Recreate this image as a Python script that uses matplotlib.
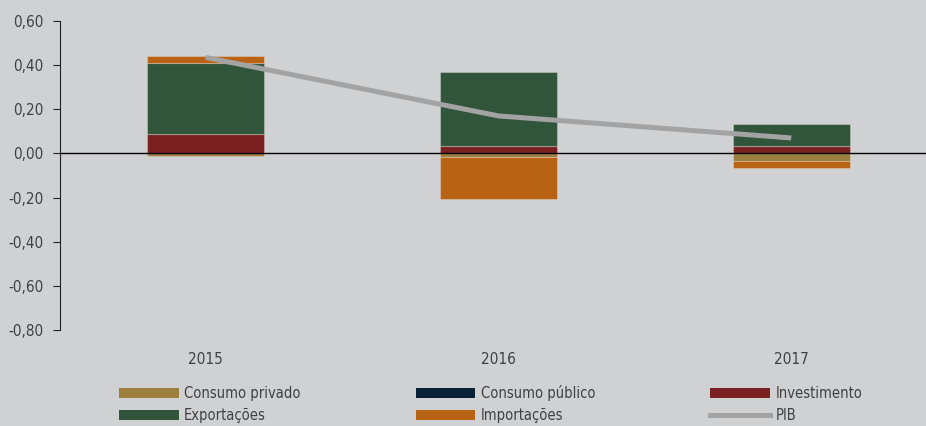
import numpy as np
import matplotlib.pyplot as plt
from matplotlib.lines import Line2D
from matplotlib.patches import Patch

years = ["2015", "2016", "2017"]
consumo_privado = [-0.01, -0.015, -0.036]
consumo_publico = [0.0, 0.0, 0.0]
investimento = [0.09, 0.035, 0.033]
exportacoes = [0.32, 0.335, 0.10]
importacoes = [0.03, -0.19, -0.03]
pib = [0.435, 0.17, 0.07]

series = [
    ("Consumo privado", consumo_privado, "#9c7e3e"),
    ("Consumo público", consumo_publico, "#0a2237"),
    ("Investimento", investimento, "#7b2020"),
    ("Exportações", exportacoes, "#31553a"),
    ("Importações", importacoes, "#b86214"),
]

plt.rcParams['font.family'] = ['DejaVu Sans']
plt.rcParams['font.stretch'] = 'condensed'
plt.rcParams['font.weight'] = 'light'
bg = "#d0d1d3"
txt = "#404040"

fig = plt.figure(figsize=(9.26, 4.26), dpi=100, facecolor=bg)
ax = fig.add_axes([60 / 926, 1 - 330 / 426, 866 / 926, 309 / 426])
ax.set_facecolor(bg)

x = np.arange(len(years))
pos_base = np.zeros(len(years))
neg_base = np.zeros(len(years))
for name, vals, col in series:
    vals = np.array(vals)
    base = np.where(vals >= 0, pos_base, neg_base)
    ax.bar(x, vals, 0.4, bottom=base, color=col, edgecolor=(1, 1, 1, 0.25),
           linewidth=0.8, zorder=2)
    pos_base += np.where(vals >= 0, vals, 0)
    neg_base += np.where(vals < 0, vals, 0)

ax.plot(x, pib, color="#a3a3a3", linewidth=3.6, zorder=3, solid_capstyle="butt")
ax.axhline(0, color="black", linewidth=1, zorder=4)

ax.set_ylim(-0.8, 0.6)
ax.set_xlim(-0.497, 2.46)
ax.set_yticks(np.arange(-0.8, 0.61, 0.2))
ax.set_yticklabels([f"{v:.2f}".replace(".", ",").replace("-0,00", "0,00")
                    for v in np.arange(-0.8, 0.61, 0.2)])
ax.set_xticks(x)
ax.set_xticklabels(years)

for s in ["top", "right", "bottom"]:
    ax.spines[s].set_visible(False)
ax.spines["left"].set_color("#222222")
ax.tick_params(axis="y", colors="#222222", labelcolor=txt, labelsize=11,
               length=5, pad=7, direction="out")
ax.tick_params(axis="x", length=0, pad=16, labelcolor=txt, labelsize=11)

handles = []
for name, vals, col in series:
    handles.append(Patch(facecolor=col, label=name))
handles.append(Line2D([0], [0], color="#a3a3a3", linewidth=3.6, label="PIB"))
order = [0, 3, 1, 4, 2, 5]
fig.legend([handles[i] for i in order], [handles[i].get_label() for i in order],
           ncol=3, mode="expand", frameon=False,
           bbox_to_anchor=(113 / 926, -3 / 426, 755 / 926, 44 / 426),
           loc="lower left", fontsize=10.5, handlelength=4.1, handleheight=0.65,
           handletextpad=0.35, labelspacing=0.5, labelcolor=txt,
           borderaxespad=0)

fig.savefig("out.png", dpi=100, facecolor=bg)
